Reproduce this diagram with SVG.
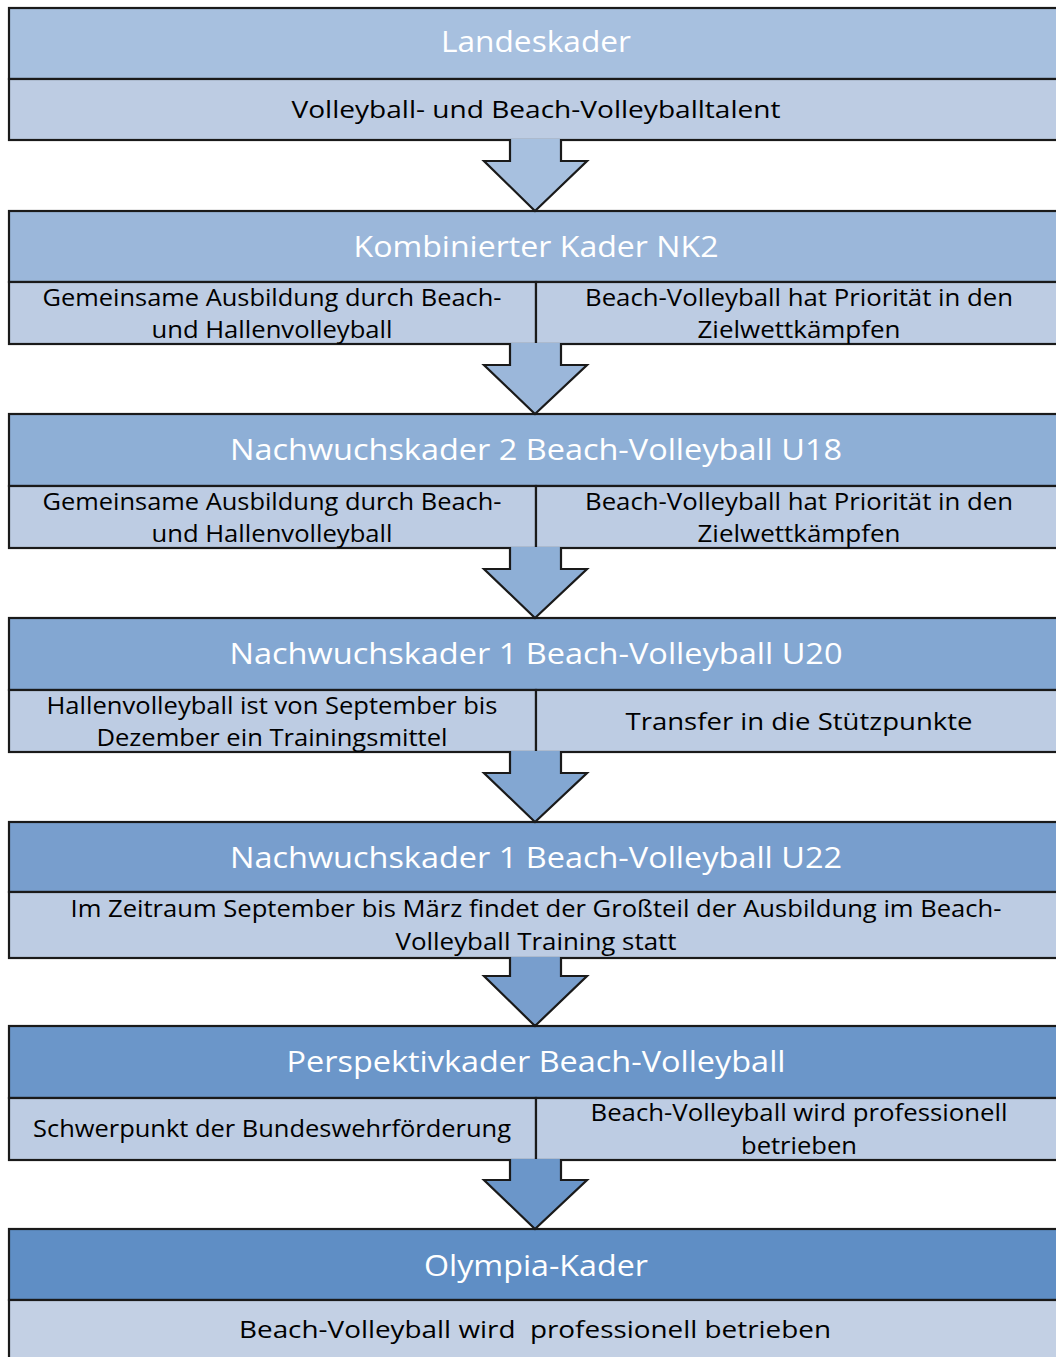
<svg xmlns="http://www.w3.org/2000/svg" width="1056" height="1357" viewBox="0 0 1056 1357">
<style>
.box{stroke:#1a1a1a;stroke-width:2.2}
.sub{fill:#BDCCE3}
.arrow{stroke:#1a1a1a;stroke-width:2.2;stroke-linejoin:miter}
.h{font-family:"Open Sans","Noto Sans",sans-serif;font-size:29px;fill:#ffffff;text-anchor:middle}
.t{font-family:"Open Sans","Noto Sans",sans-serif;font-size:23px;fill:#000000;text-anchor:middle}
</style>
<rect width="1056" height="1357" fill="#ffffff"/>
<g id="node1">
<rect class="box" x="9" y="8" width="1060" height="71" fill="#A7C0DF"/>
<rect class="box sub" x="9" y="79" width="1060" height="61"/>
<text class="h" x="536" y="52" textLength="190" lengthAdjust="spacingAndGlyphs">Landeskader</text>
<text class="t" x="536" y="118" textLength="489" lengthAdjust="spacingAndGlyphs">Volleyball- und Beach-Volleyballtalent</text>
</g>
<g id="node2">
<rect class="box" x="9" y="211" width="1060" height="71" fill="#9BB7DA"/>
<rect class="box sub" x="9" y="282" width="527" height="62"/>
<rect class="box sub" x="536" y="282" width="533" height="62"/>
<text class="h" x="536" y="257" textLength="365" lengthAdjust="spacingAndGlyphs">Kombinierter Kader NK2</text>
<text class="t" x="272" y="306" textLength="459" lengthAdjust="spacingAndGlyphs">Gemeinsame Ausbildung durch Beach-</text>
<text class="t" x="272" y="338" textLength="241" lengthAdjust="spacingAndGlyphs">und Hallenvolleyball</text>
<text class="t" x="799" y="306" textLength="428" lengthAdjust="spacingAndGlyphs">Beach-Volleyball hat Priorität in den</text>
<text class="t" x="799" y="338" textLength="203" lengthAdjust="spacingAndGlyphs">Zielwettkämpfen</text>
</g>
<g id="node3">
<rect class="box" x="9" y="414" width="1060" height="72" fill="#8EAFD6"/>
<rect class="box sub" x="9" y="486" width="527" height="62"/>
<rect class="box sub" x="536" y="486" width="533" height="62"/>
<text class="h" x="536" y="460" textLength="612" lengthAdjust="spacingAndGlyphs">Nachwuchskader 2 Beach-Volleyball U18</text>
<text class="t" x="272" y="510" textLength="459" lengthAdjust="spacingAndGlyphs">Gemeinsame Ausbildung durch Beach-</text>
<text class="t" x="272" y="542" textLength="241" lengthAdjust="spacingAndGlyphs">und Hallenvolleyball</text>
<text class="t" x="799" y="510" textLength="428" lengthAdjust="spacingAndGlyphs">Beach-Volleyball hat Priorität in den</text>
<text class="t" x="799" y="542" textLength="203" lengthAdjust="spacingAndGlyphs">Zielwettkämpfen</text>
</g>
<g id="node4">
<rect class="box" x="9" y="618" width="1060" height="72" fill="#83A7D2"/>
<rect class="box sub" x="9" y="690" width="527" height="62"/>
<rect class="box sub" x="536" y="690" width="533" height="62"/>
<text class="h" x="536" y="664" textLength="613" lengthAdjust="spacingAndGlyphs">Nachwuchskader 1 Beach-Volleyball U20</text>
<text class="t" x="272" y="714" textLength="451" lengthAdjust="spacingAndGlyphs">Hallenvolleyball ist von September bis</text>
<text class="t" x="272" y="746" textLength="351" lengthAdjust="spacingAndGlyphs">Dezember ein Trainingsmittel</text>
<text class="t" x="799" y="730" textLength="347" lengthAdjust="spacingAndGlyphs">Transfer in die Stützpunkte</text>
</g>
<g id="node5">
<rect class="box" x="9" y="822" width="1060" height="70" fill="#789ECD"/>
<rect class="box sub" x="9" y="892" width="1060" height="66"/>
<text class="h" x="536" y="868" textLength="612" lengthAdjust="spacingAndGlyphs">Nachwuchskader 1 Beach-Volleyball U22</text>
<text class="t" x="536" y="917" textLength="931" lengthAdjust="spacingAndGlyphs">Im Zeitraum September bis März findet der Großteil der Ausbildung im Beach-</text>
<text class="t" x="536" y="950" textLength="281" lengthAdjust="spacingAndGlyphs">Volleyball Training statt</text>
</g>
<g id="node6">
<rect class="box" x="9" y="1026" width="1060" height="72" fill="#6B96C9"/>
<rect class="box sub" x="9" y="1098" width="527" height="62"/>
<rect class="box sub" x="536" y="1098" width="533" height="62"/>
<text class="h" x="536" y="1072" textLength="499" lengthAdjust="spacingAndGlyphs">Perspektivkader Beach-Volleyball</text>
<text class="t" x="272" y="1137" textLength="478" lengthAdjust="spacingAndGlyphs">Schwerpunkt der Bundeswehrförderung</text>
<text class="t" x="799" y="1121" textLength="417" lengthAdjust="spacingAndGlyphs">Beach-Volleyball wird professionell</text>
<text class="t" x="799" y="1154" textLength="116" lengthAdjust="spacingAndGlyphs">betrieben</text>
</g>
<g id="node7">
<rect class="box" x="9" y="1229" width="1060" height="71" fill="#5F8EC5"/>
<rect class="box" x="9" y="1300" width="1060" height="70" fill="#C3D0E4"/>
<text class="h" x="536" y="1276" textLength="224" lengthAdjust="spacingAndGlyphs">Olympia-Kader</text>
<text class="t" x="535" y="1338" textLength="592" lengthAdjust="spacingAndGlyphs" style="white-space:pre">Beach-Volleyball wird  professionell betrieben</text>
</g>
<g id="connectors">
<path class="arrow" fill="#A7C0DF" d="M510,139 V161 H484 L535,211 L587,161 H561 V139"/>
<path class="arrow" fill="#9BB7DA" d="M510,343 V365 H484 L535,414 L587,365 H561 V343"/>
<path class="arrow" fill="#8EAFD6" d="M510,547 V569 H484 L535,618 L587,569 H561 V547"/>
<path class="arrow" fill="#83A7D2" d="M510,751 V773 H484 L535,822 L587,773 H561 V751"/>
<path class="arrow" fill="#789ECD" d="M510,957 V976 H484 L535,1026 L587,976 H561 V957"/>
<path class="arrow" fill="#6B96C9" d="M510,1159 V1180 H484 L535,1229 L587,1180 H561 V1159"/>
</g>
</svg>
